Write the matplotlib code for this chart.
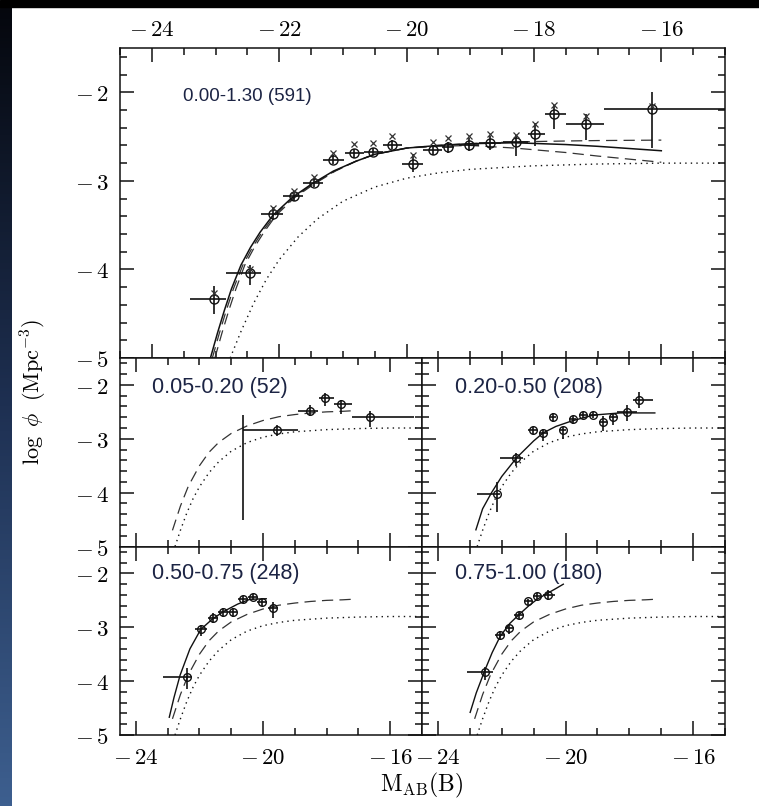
import numpy as np
import matplotlib
matplotlib.use('Agg')
import matplotlib.pyplot as plt
from matplotlib.ticker import FixedLocator, MultipleLocator, FixedFormatter, NullFormatter
from matplotlib.patches import Rectangle
from matplotlib.colors import LinearSegmentedColormap

plt.rcParams['mathtext.fontset'] = 'cm'
plt.rcParams['font.family'] = ['Liberation Sans', 'DejaVu Sans']

# ---------------- data ----------------
# top panel: 0.00-1.30 (591)
top_M = [-23.03, -22.46, -22.09, -21.77, -21.45, -21.15, -20.83, -20.53, -20.23, -19.90,
         -19.59, -19.35, -19.02, -18.69, -18.28, -17.99, -17.69, -17.19, -16.14]
top_y = [-4.33, -4.04, -3.37, -3.17, -3.02, -2.76, -2.69, -2.67, -2.59, -2.81,
         -2.65, -2.62, -2.59, -2.57, -2.56, -2.47, -2.25, -2.36, -2.19]
top_xlo = [-23.40, -22.83, -22.28, -21.94, -21.62, -21.32, -20.97, -20.67, -20.37, -20.07,
           -19.74, -19.44, -19.17, -18.87, -18.48, -18.09, -17.82, -17.49, -16.90]
top_xhi = [-22.83, -22.28, -21.94, -21.62, -21.32, -20.98, -20.67, -20.37, -20.07, -19.74,
           -19.44, -19.26, -18.87, -18.51, -18.09, -17.82, -17.49, -16.90, -14.50]
top_ylo = [-4.50, -4.18, -3.44, -3.23, -3.07, -2.81, -2.74, -2.71, -2.64, -2.90,
           -2.71, -2.68, -2.66, -2.65, -2.72, -2.61, -2.41, -2.54, -2.63]
top_yhi = [-4.19, -3.95, -3.30, -3.11, -2.97, -2.71, -2.64, -2.63, -2.54, -2.70,
           -2.59, -2.56, -2.52, -2.49, -2.48, -2.35, -2.14, -2.25, -2.00]
top_cross = [-4.27, -3.99, -3.31, -3.12, -2.96, -2.68, -2.58, -2.57, -2.49, -2.71,
             -2.56, -2.52, -2.49, -2.47, -2.48, -2.36, -2.14, -2.27, -2.16]

# top panel fits
top_fit_M = [-23.08, -22.97, -22.86, -22.75, -22.60, -22.45, -22.30, -22.10, -21.80, -21.50,
             -21.15, -20.80, -20.50, -20.00, -19.50, -19.00, -18.30, -17.50, -17.00, -16.00]
top_fit_y = [-5.00, -4.72, -4.46, -4.22, -3.95, -3.75, -3.58, -3.39, -3.19, -3.04,
             -2.89, -2.78, -2.70, -2.63, -2.60, -2.58, -2.57, -2.59, -2.61, -2.66]
top_dash1_M = [-23.05, -22.94, -22.83, -22.72, -22.57, -22.42, -22.27, -22.07, -21.78, -21.48,
               -21.13, -20.80, -20.50, -20.00, -19.50, -19.00, -18.30, -17.50, -17.00, -16.00]
top_dash1_y = [-5.00, -4.72, -4.46, -4.22, -3.95, -3.75, -3.58, -3.39, -3.19, -3.04,
               -2.89, -2.78, -2.70, -2.63, -2.60, -2.58, -2.56, -2.55, -2.545, -2.54]
top_dash2_M = [-23.01, -22.90, -22.79, -22.68, -22.54, -22.39, -22.24, -22.05, -21.76, -21.46,
               -21.12, -20.80, -20.50, -20.00, -19.50, -19.00, -18.30, -17.50, -17.00, -16.00]
top_dash2_y = [-5.00, -4.72, -4.46, -4.22, -3.95, -3.75, -3.58, -3.39, -3.19, -3.04,
               -2.89, -2.78, -2.70, -2.63, -2.61, -2.60, -2.63, -2.68, -2.72, -2.79]

# local reference LF (dotted, all panels)
local_M = [-22.77, -22.60, -22.40, -22.20, -22.00, -21.70, -21.40, -21.00, -20.50, -20.00,
           -19.50, -19.00, -18.00, -17.00, -16.00, -15.00]
local_y = [-5.00, -4.70, -4.38, -4.11, -3.89, -3.63, -3.43, -3.23, -3.07, -2.97,
           -2.91, -2.87, -2.83, -2.81, -2.80, -2.80]

# low-z fit (dashed, lower panels)
lowz_M = [-22.85, -22.60, -22.35, -22.00, -21.70, -21.40, -21.00, -20.50, -20.00, -19.50,
          -19.00, -18.50, -18.00, -17.50, -17.20]
lowz_y = [-4.70, -4.25, -3.88, -3.50, -3.25, -3.07, -2.90, -2.76, -2.66, -2.59,
          -2.55, -2.52, -2.50, -2.49, -2.48]

# 0.05-0.20 (52)
ml_M = [-20.62, -19.56, -18.53, -18.05, -17.56, -16.64]
ml_y = [-2.83, -2.83, -2.48, -2.245, -2.36, -2.59]
ml_xlo = [-20.62, -20.06, -18.89, -18.23, -17.78, -17.20]
ml_xhi = [-20.06, -18.89, -18.26, -17.78, -17.20, -15.26]
ml_ylo = [-4.51, -2.95, -2.58, -2.40, -2.54, -2.78]
ml_yhi = [-2.55, -2.74, -2.37, -2.15, -2.28, -2.49]
ml_circle = [False, True, True, True, True, True]

# 0.20-0.50 (208)
mr_M = [-22.14, -21.56, -21.03, -20.70, -20.40, -20.09, -19.78, -19.46, -19.13, -18.82,
        -18.52, -18.08, -17.69]
mr_y = [-4.02, -3.36, -2.84, -2.89, -2.60, -2.84, -2.64, -2.56, -2.56, -2.69,
        -2.60, -2.50, -2.28]
mr_xlo = [-22.79, -22.05, -21.17, -20.83, -20.50, -20.20, -19.90, -19.58, -19.25, -18.95,
          -18.64, -18.40, -17.88]
mr_xhi = [-22.05, -21.32, -20.89, -20.57, -20.30, -19.98, -19.66, -19.34, -19.01, -18.69,
          -18.40, -17.77, -17.25]
mr_ylo = [-4.36, -3.50, -2.92, -3.04, -2.69, -3.00, -2.72, -2.62, -2.62, -2.86,
          -2.74, -2.67, -2.43]
mr_yhi = [-3.81, -3.26, -2.78, -2.81, -2.52, -2.78, -2.58, -2.50, -2.50, -2.58,
          -2.52, -2.37, -2.13]
mr_fit_M = [-22.81, -22.60, -22.32, -22.00, -21.53, -21.00, -20.70, -20.30, -19.81, -19.13,
            -18.29, -17.20]
mr_fit_y = [-4.69, -4.30, -4.00, -3.70, -3.35, -3.04, -2.89, -2.77, -2.67, -2.56,
            -2.52, -2.52]

# 0.50-0.75 (248)
bl_M = [-22.40, -21.96, -21.59, -21.25, -20.96, -20.62, -20.33, -20.03, -19.68]
bl_y = [-3.92, -3.04, -2.83, -2.72, -2.72, -2.48, -2.44, -2.53, -2.64]
bl_xlo = [-23.14, -22.14, -21.72, -21.41, -21.12, -20.78, -20.47, -20.19, -19.84]
bl_xhi = [-22.25, -21.77, -21.41, -21.12, -20.82, -20.47, -20.19, -19.88, -19.52]
bl_ylo = [-4.14, -3.17, -2.92, -2.80, -2.80, -2.54, -2.50, -2.60, -2.83]
bl_yhi = [-3.76, -2.95, -2.73, -2.65, -2.65, -2.42, -2.39, -2.46, -2.53]
bl_fit_M = [-22.95, -22.80, -22.61, -22.30, -21.96, -21.60, -21.25, -20.80, -20.41, -19.90]
bl_fit_y = [-4.67, -4.30, -3.89, -3.40, -3.04, -2.85, -2.71, -2.57, -2.48, -2.47]

# 0.75-1.00 (180)
br_M = [-22.53, -22.05, -21.76, -21.45, -21.17, -20.89, -20.54]
br_y = [-3.83, -3.15, -3.02, -2.78, -2.52, -2.42, -2.40]
br_xlo = [-23.10, -22.20, -21.90, -21.60, -21.30, -21.02, -20.70]
br_xhi = [-22.26, -21.90, -21.62, -21.30, -21.04, -20.76, -20.33]
br_ylo = [-3.98, -3.24, -3.12, -2.85, -2.58, -2.48, -2.50]
br_yhi = [-3.73, -3.07, -2.93, -2.72, -2.47, -2.37, -2.31]
br_fit_M = [-22.99, -22.80, -22.53, -22.30, -22.05, -21.75, -21.45, -21.15, -20.89, -20.54,
            -20.30, -20.07]
br_fit_y = [-4.58, -4.22, -3.80, -3.47, -3.17, -2.93, -2.76, -2.60, -2.48, -2.36,
            -2.28, -2.20]

panel_labels = ['0.00-1.30 (591)', '0.05-0.20 (52)', '0.20-0.50 (208)',
                '0.50-0.75 (248)', '0.75-1.00 (180)']
top_xticks = [-24, -22, -20, -18, -16]
top_xticklabels = [r'$-\,24$', r'$-\,22$', r'$-\,20$', r'$-\,18$', r'$-\,16$']
low_xticks = [-24, -20, -16]
low_xticklabels = [r'$-\,24$', r'$-\,20$', r'$-\,16$']
yticks = [-2, -3, -4, -5]
yticklabels = [r'$-\,2$', r'$-\,3$', r'$-\,4$', r'$-\,5$']

# ---------------- figure ----------------
W, H = 759, 806
fig = plt.figure(figsize=(W / 100, H / 100), dpi=100)


def box(l, t, r, b):
    return [l / W, 1 - b / H, (r - l) / W, (b - t) / H]


ax_top = fig.add_axes(box(120, 48, 725, 358))
ax_ml = fig.add_axes(box(120, 358, 422, 546.5))
ax_mr = fig.add_axes(box(422, 358, 725, 546.5))
ax_bl = fig.add_axes(box(120, 546.5, 422, 735))
ax_br = fig.add_axes(box(422, 546.5, 725, 735))

LINE = '#111111'


def style(ax, xt, xtl, xminor, show_x, show_y, xtop=False):
    ax.set_xlim(-24.5, -15)
    ax.set_ylim(-5, -1.5)
    ax.xaxis.set_major_locator(FixedLocator(xt))
    ax.xaxis.set_minor_locator(MultipleLocator(xminor))
    ax.yaxis.set_major_locator(FixedLocator(yticks))
    ax.yaxis.set_minor_locator(MultipleLocator(0.2))
    ax.xaxis.set_major_formatter(FixedFormatter(xtl) if show_x else NullFormatter())
    ax.yaxis.set_major_formatter(FixedFormatter(yticklabels) if show_y else NullFormatter())
    ax.tick_params(which='both', direction='in', top=True, right=True,
                   color=LINE, width=1.1, labelsize=16.5)
    ax.tick_params(which='major', length=10)
    ax.tick_params(which='minor', length=5)
    ax.tick_params(axis='y', pad=8)
    ax.tick_params(axis='x', pad=8)
    if xtop:
        ax.tick_params(axis='x', labeltop=True, labelbottom=False, pad=5)
    for s in ax.spines.values():
        s.set_linewidth(1.1)
        s.set_color(LINE)


style(ax_top, top_xticks, top_xticklabels, 0.5, True, True, xtop=True)
style(ax_ml, low_xticks, low_xticklabels, 1, False, True)
style(ax_mr, low_xticks, low_xticklabels, 1, False, False)
style(ax_bl, low_xticks, low_xticklabels, 1, True, True)
style(ax_br, low_xticks, low_xticklabels, 1, True, False)

dashes = (9, 5)
dots = (1, 3)


def points(ax, M, y, xlo, xhi, ylo, yhi, ms, circles=None):
    M = np.array(M); y = np.array(y)
    xerr = [M - np.array(xlo), np.array(xhi) - M]
    yerr = [y - np.array(ylo), np.array(yhi) - y]
    ax.errorbar(M, y, xerr=xerr, yerr=yerr, fmt='none', ecolor=LINE,
                elinewidth=1.2, capsize=0, zorder=3)
    if circles is None:
        circles = [True] * len(M)
    sel = np.array(circles)
    ax.plot(M[sel], y[sel], 'o', ms=ms, mfc='none', mec=LINE, mew=1.0, zorder=4)


# top panel
ax_top.plot(local_M, local_y, color=LINE, lw=1.0, dashes=dots)
ax_top.plot(top_dash1_M, top_dash1_y, color='#333333', lw=0.9, dashes=dashes)
ax_top.plot(top_dash2_M, top_dash2_y, color='#333333', lw=0.9, dashes=dashes)
ax_top.plot(top_fit_M, top_fit_y, color=LINE, lw=1.1)
points(ax_top, top_M, top_y, top_xlo, top_xhi, top_ylo, top_yhi, ms=6.5)
ax_top.plot(top_M, top_cross, 'x', ms=4, mew=0.9, color='#333333', zorder=4)

# 0.05-0.20
ax_ml.plot(local_M, local_y, color=LINE, lw=1.0, dashes=dots)
ax_ml.plot(lowz_M, lowz_y, color='#333333', lw=0.9, dashes=dashes)
points(ax_ml, ml_M, ml_y, ml_xlo, ml_xhi, ml_ylo, ml_yhi, ms=5.5, circles=ml_circle)

# 0.20-0.50
ax_mr.plot(local_M, local_y, color=LINE, lw=1.0, dashes=dots)
ax_mr.plot(mr_fit_M, mr_fit_y, color=LINE, lw=1.0)
points(ax_mr, mr_M, mr_y, mr_xlo, mr_xhi, mr_ylo, mr_yhi, ms=5.5)

# 0.50-0.75
ax_bl.plot(local_M, local_y, color=LINE, lw=1.0, dashes=dots)
ax_bl.plot(lowz_M, lowz_y, color='#333333', lw=0.9, dashes=dashes)
ax_bl.plot(bl_fit_M, bl_fit_y, color=LINE, lw=1.0)
points(ax_bl, bl_M, bl_y, bl_xlo, bl_xhi, bl_ylo, bl_yhi, ms=5.5)

# 0.75-1.00
ax_br.plot(local_M, local_y, color=LINE, lw=1.0, dashes=dots)
ax_br.plot(lowz_M, lowz_y, color='#333333', lw=0.9, dashes=dashes)
ax_br.plot(br_fit_M, br_fit_y, color=LINE, lw=1.0)
points(ax_br, br_M, br_y, br_xlo, br_xhi, br_ylo, br_yhi, ms=5.5)

# panel labels
LABEL = '#1c2444'
ax_top.text(0.104, 0.845, panel_labels[0], transform=ax_top.transAxes,
            fontsize=13.5, color=LABEL, va='center')
ax_ml.text(0.106, 0.846, panel_labels[1], transform=ax_ml.transAxes,
           fontsize=15.5, color=LABEL, va='center')
ax_mr.text(0.109, 0.846, panel_labels[2], transform=ax_mr.transAxes,
           fontsize=15.5, color=LABEL, va='center')
ax_bl.text(0.106, 0.859, panel_labels[3], transform=ax_bl.transAxes,
           fontsize=15.5, color=LABEL, va='center')
ax_br.text(0.109, 0.859, panel_labels[4], transform=ax_br.transAxes,
           fontsize=15.5, color=LABEL, va='center')

# axis titles
fig.text(34 / W, 1 - 392 / H, r'$\log\ \phi\ \ (\mathrm{Mpc}^{-3})$',
         rotation=90, ha='center', va='center', fontsize=16)
fig.text(422 / W, 1 - 785 / H, r'$\mathrm{M_{AB}(B)}$',
         ha='center', va='center', fontsize=17)

# screenshot frame: black band on top, dark blue stripe on the left
fig.patches.append(Rectangle((0, 1 - 7 / H), 1, 7 / H, transform=fig.transFigure,
                             color='black', zorder=10))
stripe = fig.add_axes([0, 0, 12 / W, 1 - 7 / H])
grad = np.linspace(0, 1, 256).reshape(-1, 1)
cmap = LinearSegmentedColormap.from_list('band', ['#05070d', '#1e3052', '#3d5f8f'])
stripe.imshow(grad, aspect='auto', cmap=cmap, extent=[0, 1, 0, 1], origin='upper')
stripe.set_axis_off()

fig.savefig('out.png', dpi=100)
